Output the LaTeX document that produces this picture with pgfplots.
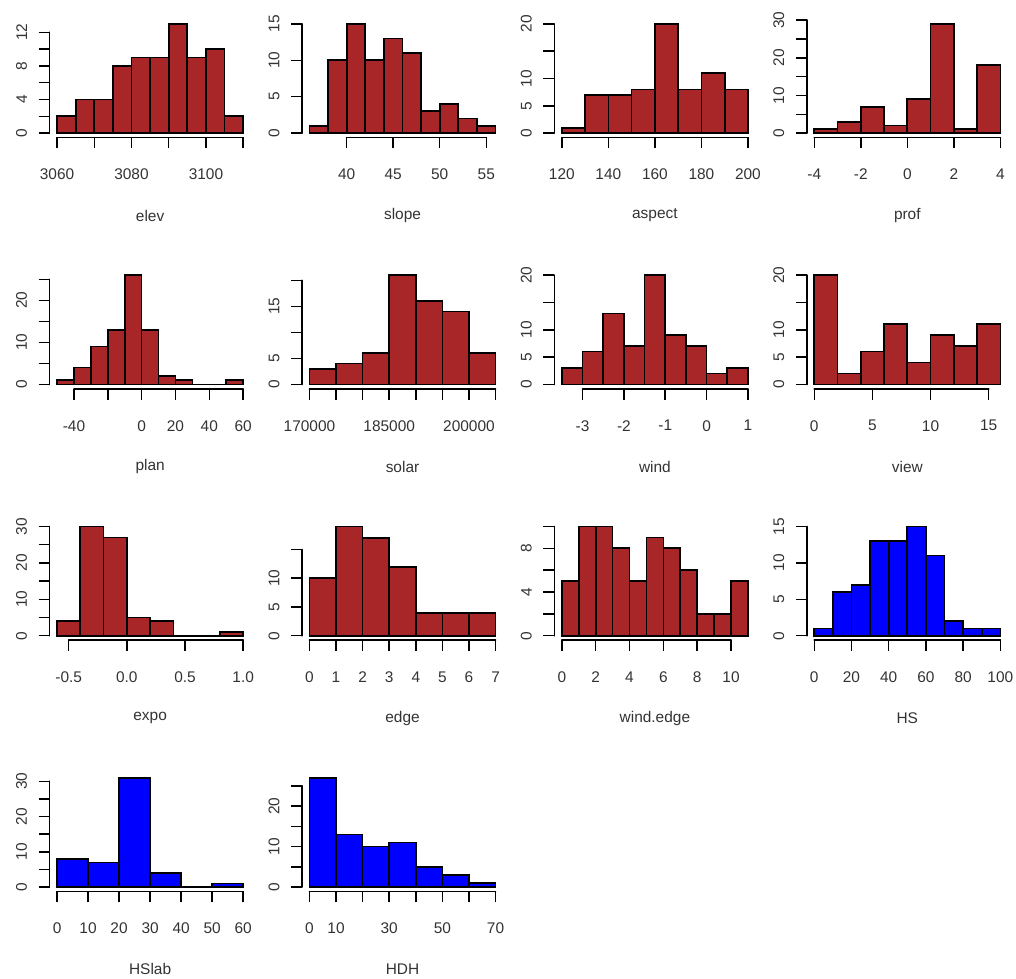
\documentclass[border=0pt]{standalone}
\usepackage{fontspec}
\setmainfont{Liberation Sans}
\usepackage{pgfplots}
\pgfplotsset{compat=1.18}
\definecolor{rbrown}{RGB}{168,38,40}
\definecolor{rblue}{RGB}{0,0,255}
\tikzset{raxis/.style={black, line width=1.7bp, line cap=round}}
% #1 x0, #2 x1, #3 ytop, #4 ymin, #5 xmin
\newcommand{\raxes}[5]{%
  \draw[raxis] (axis cs:#1,#4) -- (axis cs:#2,#4);
  \draw[raxis] (axis cs:#5,0) -- (axis cs:#5,#3);}
\pgfplotsset{
  rh/.style={
    scale only axis, width=201bp, height=118bp,
    axis line style={draw=none},
    xtick pos=left, ytick pos=left,
    tick align=outside,
    major tick length=11bp,
    every tick/.style={black, line width=1.5bp},
    clip=false,
    scaled x ticks=false, scaled y ticks=false,
    /pgf/number format/assume math mode=true,
    tick label style={font=\fontsize{15.5}{18}\selectfont, text=black!80},
    xticklabel style={anchor=north},
    xticklabel shift=17bp,
    yticklabel style={rotate=90, anchor=south},
    yticklabel shift=8bp,
    every axis x label/.style={at={(rel axis cs:0.5,0)}, anchor=center, yshift=-78bp,
      font=\fontsize{15.5}{18}\selectfont, text=black!80},
  },
  bb/.style={ybar interval, fill=rbrown, draw=black, line width=1.7bp},
  bl/.style={ybar interval, fill=rblue, draw=black, line width=1.7bp},
}
\begin{document}
\begin{tikzpicture}
\path[use as bounding box] (0,0) rectangle (1016bp,979bp);
% ---------- row 1 ----------
\begin{axis}[rh, at={(49.6bp,959.5bp)}, anchor=north west,
  xmin=3058, xmax=3112, ymin=-0.52, ymax=13.52,
  xtick={3060,3070,3080,3090,3100,3110}, xticklabels={3060,{},3080,{},3100,{}},
  ytick={0,2,4,6,8,10,12}, yticklabels={0,{},4,{},8,{},12}, xlabel={elev}]
\addplot[bb] coordinates {(3060,2) (3065,4) (3070,4) (3075,8) (3080,9) (3085,9) (3090,13) (3095,9) (3100,10) (3105,2) (3110,0)};
\raxes{3060}{3110}{12}{-0.52}{3058}
\end{axis}
\begin{axis}[rh, at={(302.0bp,959.5bp)}, anchor=north west,
  xmin=35.2, xmax=56.8, ymin=-0.6, ymax=15.6,
  xtick={40,45,50,55}, xticklabels={40,45,50,55},
  ytick={0,5,10,15}, yticklabels={0,5,10,15}, xlabel={slope}]
\addplot[bb] coordinates {(36,1) (38,10) (40,15) (42,10) (44,13) (46,11) (48,3) (50,4) (52,2) (54,1) (56,0)};
\raxes{40}{55}{15}{-0.6}{35.2}
\end{axis}
\begin{axis}[rh, at={(554.4bp,959.5bp)}, anchor=north west,
  xmin=116.8, xmax=203.2, ymin=-0.8, ymax=20.8,
  xtick={120,140,160,180,200}, xticklabels={120,140,160,180,200},
  ytick={0,5,10,15,20}, yticklabels={0,5,10,{},20}, xlabel={aspect}]
\addplot[bb] coordinates {(120,1) (130,7) (140,7) (150,8) (160,20) (170,8) (180,11) (190,8) (200,0)};
\raxes{120}{200}{20}{-0.8}{116.8}
\end{axis}
\begin{axis}[rh, at={(806.8bp,959.5bp)}, anchor=north west,
  xmin=-4.32, xmax=4.32, ymin=-1.16, ymax=30.16,
  xtick={-4,-2,0,2,4}, xticklabels={-4,-2,0,2,4},
  ytick={0,5,10,15,20,25,30}, yticklabels={0,{},10,{},20,{},30}, xlabel={prof}]
\addplot[bb] coordinates {(-4,1) (-3,3) (-2,7) (-1,2) (0,9) (1,29) (2,1) (3,18) (4,0)};
\raxes{-4}{4}{30}{-1.16}{-4.32}
\end{axis}
% ---------- row 2 ----------
\begin{axis}[rh, at={(49.6bp,708.2bp)}, anchor=north west,
  xmin=-54.4, xmax=64.4, ymin=-1.04, ymax=27.04,
  xtick={-40,-20,0,20,40,60}, xticklabels={-40,{},0,20,40,60},
  ytick={0,5,10,15,20,25}, yticklabels={0,{},10,{},20,{}}, xlabel={plan}]
\addplot[bb] coordinates {(-50,1) (-40,4) (-30,9) (-20,13) (-10,26) (0,13) (10,2) (20,1) (30,0) (40,0) (50,1) (60,0)};
\raxes{-40}{60}{25}{-1.04}{-54.4}
\end{axis}
\begin{axis}[rh, at={(302.0bp,708.2bp)}, anchor=north west,
  xmin=168600, xmax=206400, ymin=-0.84, ymax=21.84,
  xtick={170000,175000,180000,185000,190000,195000,200000,205000},
  xticklabels={170000,{},{},185000,{},{},200000,{}},
  ytick={0,5,10,15,20}, yticklabels={0,5,{},15,{}}, xlabel={solar}]
\addplot[bb] coordinates {(170000,3) (175000,4) (180000,6) (185000,21) (190000,16) (195000,14) (200000,6) (205000,0)};
\raxes{170000}{205000}{20}{-0.84}{168600}
\end{axis}
\begin{axis}[rh, at={(554.4bp,708.2bp)}, anchor=north west,
  xmin=-3.68, xmax=1.18, ymin=-0.8, ymax=20.8,
  xtick={-3,-2,-1,0,1}, xticklabels={-3,-2,-1,0,1},
  ytick={0,5,10,15,20}, yticklabels={0,5,10,{},20}, xlabel={wind}]
\addplot[bb] coordinates {(-3.5,3) (-3,6) (-2.5,13) (-2,7) (-1.5,20) (-1,9) (-0.5,7) (0,2) (0.5,3) (1,0)};
\raxes{-3}{1}{20}{-0.8}{-3.68}
\end{axis}
\begin{axis}[rh, at={(806.8bp,708.2bp)}, anchor=north west,
  xmin=-0.64, xmax=16.64, ymin=-0.8, ymax=20.8,
  xtick={0,5,10,15}, xticklabels={0,5,10,15},
  ytick={0,5,10,15,20}, yticklabels={0,5,10,{},20}, xlabel={view}]
\addplot[bb] coordinates {(0,20) (2,2) (4,6) (6,11) (8,4) (10,9) (12,7) (14,11) (16,0)};
\raxes{0}{15}{20}{-0.8}{-0.64}
\end{axis}
% ---------- row 3 ----------
\begin{axis}[rh, at={(49.6bp,456.9bp)}, anchor=north west,
  xmin=-0.664, xmax=1.064, ymin=-1.2, ymax=31.2,
  xtick={-0.5,0,0.5,1}, xticklabels={-0.5,0.0,0.5,1.0},
  ytick={0,5,10,15,20,25,30}, yticklabels={0,{},10,{},20,{},30}, xlabel={expo}]
\addplot[bb] coordinates {(-0.6,4) (-0.4,30) (-0.2,27) (0,5) (0.2,4) (0.4,0) (0.6,0) (0.8,1) (1.0,0)};
\raxes{-0.5}{1}{30}{-1.2}{-0.664}
\end{axis}
\begin{axis}[rh, at={(302.0bp,456.9bp)}, anchor=north west,
  xmin=-0.28, xmax=7.28, ymin=-0.76, ymax=19.76,
  xtick={0,1,2,3,4,5,6,7}, xticklabels={0,1,2,3,4,5,6,7},
  ytick={0,5,10,15}, yticklabels={0,5,10,{}}, xlabel={edge}]
\addplot[bb] coordinates {(0,10) (1,19) (2,17) (3,12) (4,4) (5,4) (6,4) (7,0)};
\raxes{0}{7}{15}{-0.76}{-0.28}
\end{axis}
\begin{axis}[rh, at={(554.4bp,456.9bp)}, anchor=north west,
  xmin=-0.44, xmax=11.44, ymin=-0.4, ymax=10.4,
  xtick={0,2,4,6,8,10}, xticklabels={0,2,4,6,8,10},
  ytick={0,2,4,6,8,10}, yticklabels={0,{},4,{},8,{}}, xlabel={wind.edge}]
\addplot[bb] coordinates {(0,5) (1,10) (2,10) (3,8) (4,5) (5,9) (6,8) (7,6) (8,2) (9,2) (10,5) (11,0)};
\raxes{0}{10}{10}{-0.4}{-0.44}
\end{axis}
\begin{axis}[rh, at={(806.8bp,456.9bp)}, anchor=north west,
  xmin=-4, xmax=104, ymin=-0.6, ymax=15.6,
  xtick={0,20,40,60,80,100}, xticklabels={0,20,40,60,80,100},
  ytick={0,5,10,15}, yticklabels={0,5,10,15}, xlabel={HS}]
\addplot[bl] coordinates {(0,1) (10,6) (20,7) (30,13) (40,13) (50,15) (60,11) (70,2) (80,1) (90,1) (100,0)};
\raxes{0}{100}{15}{-0.6}{-4}
\end{axis}
% ---------- row 4 ----------
\begin{axis}[rh, at={(49.6bp,205.6bp)}, anchor=north west,
  xmin=-2.4, xmax=62.4, ymin=-1.24, ymax=32.24,
  xtick={0,10,20,30,40,50,60}, xticklabels={0,10,20,30,40,50,60},
  ytick={0,5,10,15,20,25,30}, yticklabels={0,{},10,{},20,{},30}, xlabel={HSlab}]
\addplot[bl] coordinates {(0,8) (10,7) (20,31) (30,4) (40,0) (50,1) (60,0)};
\raxes{0}{60}{30}{-1.24}{-2.4}
\end{axis}
\begin{axis}[rh, at={(302.0bp,205.6bp)}, anchor=north west,
  xmin=-2.8, xmax=72.8, ymin=-1.08, ymax=28.08,
  xtick={0,10,20,30,40,50,60,70}, xticklabels={0,10,{},30,{},50,{},70},
  ytick={0,5,10,15,20,25}, yticklabels={0,{},10,{},20,{}}, xlabel={HDH}]
\addplot[bl] coordinates {(0,27) (10,13) (20,10) (30,11) (40,5) (50,3) (60,1) (70,0)};
\raxes{0}{70}{25}{-1.08}{-2.8}
\end{axis}
\end{tikzpicture}
\end{document}
